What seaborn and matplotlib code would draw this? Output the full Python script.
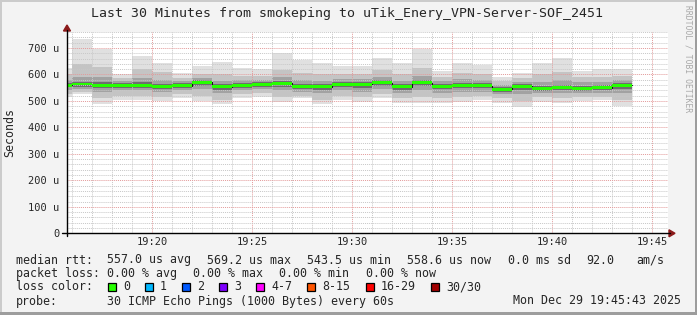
import numpy as np
import matplotlib
matplotlib.use("Agg")
import matplotlib.pyplot as plt
import seaborn as sns
from matplotlib.patches import Rectangle, Polygon
from matplotlib.lines import Line2D

# ---------------- data (values in microseconds, x in minutes after 19:00) -------------
minute_start = list(range(15, 44))
rtt_median = [560, 564, 560, 558, 560, 556, 558, 570, 554, 560, 563, 567, 556, 554, 563,
              563, 569, 554, 569, 556, 560, 558, 544, 555, 548, 551, 548, 550, 559]
rtt_max = [623, 734, 696, 600, 671, 644, 605, 632, 646, 623, 619, 680, 655, 645, 632,
           632, 661, 642, 696, 614, 645, 636, 592, 604, 645, 663, 614, 619, 619]
rtt_min = [516, 527, 488, 503, 503, 500, 512, 500, 490, 510, 516, 497, 510, 488, 503,
           497, 510, 491, 494, 491, 497, 503, 494, 478, 497, 491, 500, 503, 481]
rtt_p90 = [600, 640, 630, 585, 620, 610, 585, 600, 600, 595, 595, 615, 605, 600, 600,
           600, 615, 600, 625, 590, 605, 600, 575, 585, 600, 610, 590, 590, 595]
rtt_p75 = [578, 590, 590, 575, 585, 578, 575, 588, 575, 580, 580, 590, 580, 575, 582,
           582, 590, 577, 595, 575, 583, 578, 562, 572, 570, 580, 570, 572, 580]
rtt_p60 = [567, 572, 570, 566, 570, 565, 566, 578, 563, 568, 570, 576, 565, 563, 571,
           571, 578, 563, 580, 565, 569, 566, 552, 563, 558, 561, 557, 559, 568]
rtt_p40 = [551, 553, 548, 549, 550, 546, 549, 558, 543, 550, 554, 554, 546, 542, 552,
           550, 557, 542, 556, 544, 548, 547, 535, 542, 537, 540, 539, 540, 545]
rtt_p25 = [542, 545, 535, 540, 540, 535, 540, 545, 530, 540, 545, 540, 535, 530, 540,
           535, 545, 530, 540, 530, 535, 535, 525, 525, 530, 530, 530, 530, 530]
rtt_p10 = [528, 535, 510, 520, 520, 515, 525, 520, 505, 525, 530, 515, 520, 505, 520,
           515, 525, 510, 515, 510, 515, 518, 510, 500, 515, 510, 515, 515, 505]

x_major_ticks = [20, 25, 30, 35, 40, 45]
x_tick_labels = ["19:20", "19:25", "19:30", "19:35", "19:40", "19:45"]
y_major_ticks = [0, 100, 200, 300, 400, 500, 600, 700]
y_tick_labels = ["0", "100 u", "200 u", "300 u", "400 u", "500 u", "600 u", "700 u"]

title = "Last 30 Minutes from smokeping to uTik_Enery_VPN-Server-SOF_2451"
loss_labels = ["0", "1", "2", "3", "4-7", "8-15", "16-29", "30/30"]
loss_colors = ["#26ff00", "#00b8ff", "#0059ff", "#7e00ff", "#ff00ff", "#ff5500", "#ff0000", "#a10000"]

# ---------------- figure ----------------
W, H = 697, 315
sns.set_style("white")
plt.rcParams['font.family'] = ['DejaVu Sans Mono', 'DejaVu Sans']

fig = plt.figure(figsize=(W / 100, H / 100), dpi=100, facecolor='#f3f3f3')


def fx(px):
    return px / W


def fy(py):
    return 1 - py / H


ax = fig.add_axes([fx(67), fy(233.3), 601 / W, 201.2 / H])
ax.set_facecolor('white')
ax.set_xlim(15.75, 45.8)
ax.set_ylim(0, 760)

x = np.array(minute_start, dtype=float)
med = np.array(rtt_median, dtype=float)
bands = [(rtt_min, rtt_max, '#e0e0e0'),
         (rtt_p10, rtt_p90, '#c4c4c4'),
         (rtt_p25, rtt_p75, '#a2a2a2'),
         (rtt_p40, rtt_p60, '#6e6e6e')]
for i, (lo, hi, col) in enumerate(bands):
    lo, hi = np.array(lo), np.array(hi)
    ax.bar(x, hi - lo, bottom=lo, width=1, align='edge', color=col, lw=0, zorder=1 + 0.1 * i)

sns.lineplot(x=np.append(x, x[-1] + 1), y=np.append(med, med[-1]), drawstyle='steps-post',
             color='#101010', lw=0.75, ax=ax, zorder=2.8, estimator=None, sort=False)
ax.bar(x, 11, bottom=med - 5.5, width=1, align='edge', color=loss_colors[0], lw=0, zorder=3)

ax.set_xticks(x_major_ticks)
ax.set_xticklabels(x_tick_labels)
ax.set_xticks(np.arange(16, 46), minor=True)
ax.set_yticks(y_major_ticks)
ax.set_yticklabels(y_tick_labels)
ax.set_yticks(np.arange(0, 761, 20), minor=True)
ax.set_axisbelow(False)
ax.grid(which='minor', color='#c8c8c8', ls=(0, (1, 1)), lw=0.7)
ax.grid(which='major', color='#e39a9a', ls=(0, (1, 1)), lw=0.7)
ax.tick_params(which='both', length=0)
ax.tick_params(axis='y', labelsize=7.5, pad=5.4)
ax.tick_params(axis='x', labelsize=7.5, pad=3.0)
for s in ax.spines.values():
    s.set_visible(False)
ax.set_xlabel("")
ax.set_ylabel("")

# axis lines and arrows
axis_col = '#000000'
arrow_col = '#8b1a1a'
fig.add_artist(Line2D([fx(67), fx(67)], [fy(236), fy(30)], color=axis_col, lw=1.0,
                      transform=fig.transFigure))
fig.add_artist(Line2D([fx(62), fx(670)], [fy(233.3), fy(233.3)], color=axis_col, lw=1.0,
                      transform=fig.transFigure))
fig.add_artist(Polygon([[fx(67), fy(25)], [fx(63.5), fy(31)], [fx(70.5), fy(31)]],
                       closed=True, color=arrow_col, transform=fig.transFigure))
fig.add_artist(Polygon([[fx(675), fy(233.3)], [fx(669), fy(229.8)], [fx(669), fy(236.8)]],
                       closed=True, color=arrow_col, transform=fig.transFigure))

# texts
fig.text(fx(347), fy(14), title, ha='center', va='center', fontsize=9.5)
fig.text(fx(10), fy(132), "Seconds", rotation=90, ha='center', va='center', fontsize=8.4)
fig.text(fx(688), fy(59), "RRDTOOL / TOBI OETIKER", rotation=270, ha='center', va='center',
         fontsize=5.8, color='#a8a8a8')

fs = 8.4
rows = {
    260: [(16, "median rtt:"), (107, "557.0 us avg"), (207, "569.2 us max"), (307, "543.5 us min"),
          (407, "558.6 us now"), (508, "0.0 ms sd"), (586, "92.0"), (636, "am/s")],
    273.5: [(16, "packet loss:"), (107, "0.00 % avg"), (193, "0.00 % max"), (279, "0.00 % min"),
            (366, "0.00 % now")],
    287: [(16, "loss color:")],
    301: [(16, "probe:"), (107, "30 ICMP Echo Pings (1000 Bytes) every 60s"),
          (513, "Mon Dec 29 19:45:43 2025")],
}
for yy, items in rows.items():
    for xx, t in items:
        fig.text(fx(xx), fy(yy), t, ha='left', va='center', fontsize=fs)

box_x = [108, 145, 182, 219, 256, 307, 366, 431]
for bx, lab, col in zip(box_x, loss_labels, loss_colors):
    fig.add_artist(Rectangle((fx(bx), fy(291)), 8 / W, 8 / H, facecolor=col, edgecolor='black',
                             lw=0.9, transform=fig.transFigure))
    fig.text(fx(bx + 15), fy(287), lab, ha='left', va='center', fontsize=fs)

# frame shading
fig.add_artist(Rectangle((0, 0), 2 / W, 1, facecolor='#cbcbcb', lw=0, transform=fig.transFigure))
fig.add_artist(Rectangle((0, 1 - 2 / H), 1, 2 / H, facecolor='#cbcbcb', lw=0, transform=fig.transFigure))
fig.add_artist(Rectangle((1 - 2 / W, 0), 2 / W, 1, facecolor='#9d9d9d', lw=0, transform=fig.transFigure))
fig.add_artist(Rectangle((0, 0), 1, 3 / H, facecolor='#9d9d9d', lw=0, transform=fig.transFigure))

fig.savefig("out.png", dpi=100, facecolor=fig.get_facecolor())
